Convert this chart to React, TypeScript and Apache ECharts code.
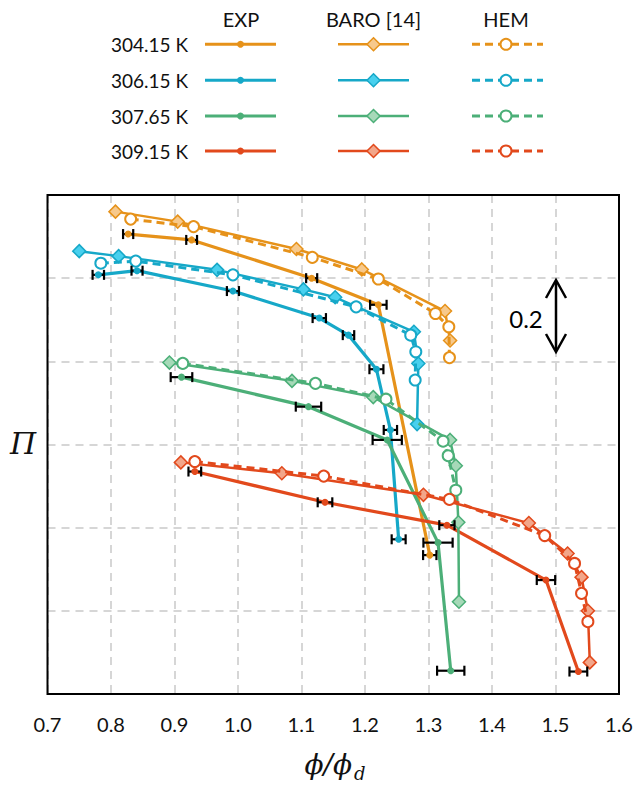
import React, { useEffect, useRef } from "react";
import * as echarts from "echarts";

// ---- data ----
const xTicks = [0.7, 0.8, 0.9, 1.0, 1.1, 1.2, 1.3, 1.4, 1.5, 1.6];
const temps = ["304.15 K", "306.15 K", "307.65 K", "309.15 K"];
const methods = ["EXP", "BARO [14]", "HEM"];

const orangeExpX = [0.827, 0.927, 1.116, 1.221, 1.302];
const orangeExpY = [1.106, 1.092, 1.0, 0.936, 0.334];
const orangeErr = [0.008, 0.0085, 0.0087, 0.013, 0.0105];
const orangeBaroX = [0.807, 0.905, 1.092, 1.195, 1.326, 1.334];
const orangeBaroY = [1.16, 1.136, 1.07, 1.021, 0.921, 0.85];
const orangeHemX = [0.831, 0.93, 1.117, 1.221, 1.311, 1.332, 1.333];
const orangeHemY = [1.142, 1.124, 1.05, 0.998, 0.915, 0.883, 0.809];

const cyanExpX = [0.78, 0.841, 0.992, 1.128, 1.174, 1.218, 1.24, 1.253];
const cyanExpY = [1.008, 1.018, 0.969, 0.904, 0.863, 0.781, 0.635, 0.372];
const cyanErr = [0.009, 0.0087, 0.0095, 0.0105, 0.009, 0.011, 0.0105, 0.011];
const cyanBaroX = [0.75, 0.812, 0.967, 1.103, 1.153, 1.277, 1.284, 1.282];
const cyanBaroY = [1.065, 1.053, 1.02, 0.973, 0.954, 0.871, 0.795, 0.649];
const cyanHemX = [0.784, 0.839, 0.992, 1.186, 1.272, 1.28, 1.279];
const cyanHemY = [1.036, 1.041, 1.008, 0.931, 0.863, 0.823, 0.755];

const greenExpX = [0.911, 1.111, 1.235, 1.315, 1.335];
const greenExpY = [0.762, 0.691, 0.611, 0.364, 0.056];
const greenErr = [0.017, 0.02, 0.023, 0.023, 0.0215];
const greenBaroX = [0.892, 1.085, 1.213, 1.334, 1.343, 1.347, 1.348];
const greenBaroY = [0.797, 0.753, 0.714, 0.611, 0.549, 0.413, 0.222];
const greenHemX = [0.913, 1.122, 1.233, 1.323, 1.331, 1.343];
const greenHemY = [0.795, 0.747, 0.709, 0.608, 0.573, 0.49];

const redExpX = [0.932, 1.137, 1.329, 1.485, 1.536];
const redExpY = [0.535, 0.461, 0.406, 0.274, 0.054];
const redErr = [0.01, 0.0115, 0.012, 0.0145, 0.014];
const redBaroX = [0.91, 1.069, 1.292, 1.458, 1.519, 1.541, 1.551, 1.554];
const redBaroY = [0.557, 0.531, 0.479, 0.411, 0.338, 0.281, 0.2, 0.076];
const redHemX = [0.932, 1.135, 1.333, 1.483, 1.53, 1.541, 1.551];
const redHemY = [0.559, 0.524, 0.468, 0.381, 0.314, 0.242, 0.174];

// ---- styles ----
const FONT = "Lato";
const colors = ["#E6921A", "#16A8C8", "#4CAF78", "#E2491C"];
const fills = ["#F7C98C", "#48D0EE", "#A6D9B8", "#F2A68A"];

const groups = [
  { expX: orangeExpX, expY: orangeExpY, err: orangeErr, baroX: orangeBaroX, baroY: orangeBaroY, hemX: orangeHemX, hemY: orangeHemY },
  { expX: cyanExpX, expY: cyanExpY, err: cyanErr, baroX: cyanBaroX, baroY: cyanBaroY, hemX: cyanHemX, hemY: cyanHemY },
  { expX: greenExpX, expY: greenExpY, err: greenErr, baroX: greenBaroX, baroY: greenBaroY, hemX: greenHemX, hemY: greenHemY },
  { expX: redExpX, expY: redExpY, err: redErr, baroX: redBaroX, baroY: redBaroY, hemX: redHemX, hemY: redHemY },
];

const pairs = (xs: number[], ys: number[]) => xs.map((x, i) => [x, ys[i]]);

const GRID = { left: 47.5, right: 18, top: 195, bottom: 92 };
const W = 637;
const H = 786;

export default function App() {
  const ref = useRef<HTMLDivElement>(null);
  useEffect(() => {
    if (!ref.current) return;
    const chart = echarts.init(ref.current, null, { renderer: "svg" });
    const series: any[] = [];
    groups.forEach((g, gi) => {
      const c = colors[gi];
      series.push({
        type: "line",
        name: temps[gi] + " EXP",
        data: pairs(g.expX, g.expY),
        showSymbol: false,
        lineStyle: { color: c, width: 3.2 },
        z: 2,
      });
      series.push({
        type: "line",
        name: temps[gi] + " BARO",
        data: pairs(g.baroX, g.baroY),
        symbol: "diamond",
        symbolSize: 13,
        lineStyle: { color: c, width: 2.5 },
        itemStyle: { color: fills[gi], borderColor: c, borderWidth: 1.5 },
        z: 3,
      });
      series.push({
        type: "line",
        name: temps[gi] + " HEM",
        data: pairs(g.hemX, g.hemY),
        symbol: "circle",
        symbolSize: 11,
        lineStyle: { color: c, width: 3, type: [8, 5] },
        itemStyle: { color: "#fff", borderColor: c, borderWidth: 2 },
        z: 4,
      });
      series.push({
        type: "custom",
        name: temps[gi] + " err",
        data: g.expX.map((x, i) => [x, g.expY[i], g.err[i]]),
        encode: { x: 0, y: 1 },
        z: 5,
        renderItem: (params: any, api: any) => {
          const x = api.value(0);
          const y = api.value(1);
          const e = api.value(2);
          const p = api.coord([x, y]);
          const l = api.coord([x - e, y]);
          const r = api.coord([x + e, y]);
          const st = { stroke: "#000", lineWidth: 2.2 };
          return {
            type: "group",
            children: [
              { type: "line", shape: { x1: l[0], y1: p[1], x2: r[0], y2: p[1] }, style: st },
              { type: "line", shape: { x1: l[0], y1: p[1] - 5, x2: l[0], y2: p[1] + 5 }, style: st },
              { type: "line", shape: { x1: r[0], y1: p[1] - 5, x2: r[0], y2: p[1] + 5 }, style: st },
              { type: "circle", shape: { cx: p[0], cy: p[1], r: 3.5 }, style: { fill: c } },
            ],
          };
        },
      });
    });

    // legend graphics
    const graphic: any[] = [];
    const headerX = [241, 373.5, 506];
    methods.forEach((m, i) => {
      graphic.push({
        type: "text",
        x: headerX[i],
        y: 19,
        style: { text: m, font: `20px ${FONT}`, fill: "#111", textAlign: "center", textVerticalAlign: "middle" },
      });
    });
    const rowY = [44.3, 80.3, 116, 151];
    temps.forEach((t, i) => {
      const y = rowY[i];
      const c = colors[i];
      graphic.push({
        type: "text",
        x: 188,
        y,
        style: { text: t, font: `19px ${FONT}`, fill: "#111", textAlign: "right", textVerticalAlign: "middle" },
      });
      graphic.push({ type: "line", shape: { x1: 205, y1: y, x2: 276, y2: y }, style: { stroke: c, lineWidth: 3 } });
      graphic.push({ type: "circle", shape: { cx: 240.5, cy: y, r: 3.5 }, style: { fill: c } });
      graphic.push({ type: "line", shape: { x1: 338, y1: y, x2: 409, y2: y }, style: { stroke: c, lineWidth: 2.5 } });
      graphic.push({
        type: "polygon",
        shape: { points: [[373.5, y - 6.5], [380, y], [373.5, y + 6.5], [367, y]] },
        style: { fill: fills[i], stroke: c, lineWidth: 1.5 },
      });
      graphic.push({
        type: "line",
        shape: { x1: 472, y1: y, x2: 543, y2: y },
        style: { stroke: c, lineWidth: 3, lineDash: [8, 5] },
      });
      graphic.push({ type: "circle", shape: { cx: 506, cy: y, r: 5.5 }, style: { fill: "#fff", stroke: c, lineWidth: 2 } });
    });

    // plot frame
    graphic.push({
      type: "rect",
      shape: { x: GRID.left, y: GRID.top, width: W - GRID.left - GRID.right, height: H - GRID.top - GRID.bottom },
      style: { fill: "none", stroke: "#000", lineWidth: 2 },
    });

    // scale bar
    const sb = { stroke: "#000", lineWidth: 2.5, fill: "none" };
    graphic.push({ type: "line", shape: { x1: 556, y1: 281, x2: 556, y2: 351 }, style: sb });
    graphic.push({ type: "polyline", shape: { points: [[546, 298], [556, 280], [566, 298]] }, style: sb });
    graphic.push({ type: "polyline", shape: { points: [[546, 334], [556, 352], [566, 334]] }, style: sb });
    graphic.push({
      type: "text",
      x: 526,
      y: 318,
      style: { text: "0.2", font: `24px ${FONT}`, fill: "#000", textAlign: "center", textVerticalAlign: "middle" },
    });

    // axis names
    graphic.push({
      type: "text",
      x: 352,
      y: 764,
      style: { text: "\u03D5/\u03D5", font: `italic 28px 'DejaVu Serif'`, fill: "#111", textAlign: "right", textVerticalAlign: "middle" },
    });
    graphic.push({
      type: "text",
      x: 354,
      y: 773,
      style: { text: "d", font: `italic 18px 'DejaVu Serif'`, fill: "#111", textAlign: "left", textVerticalAlign: "middle" },
    });
    graphic.push({
      type: "text",
      x: 23,
      y: 443,
      style: { text: "\u03A0", font: `italic 30px 'DejaVu Serif'`, fill: "#111", textAlign: "center", textVerticalAlign: "middle" },
    });

    graphic.forEach((el) => {
      el.z = 100;
    });

    chart.setOption({
      animation: false,
      backgroundColor: "#fff",
      grid: {
        left: GRID.left,
        right: GRID.right,
        top: GRID.top,
        bottom: GRID.bottom,
      },
      xAxis: {
        type: "value",
        min: 0.7,
        max: 1.6,
        interval: 0.1,
        axisLine: { show: false },
        axisTick: { show: false },
        axisLabel: {
          margin: 20,
          color: "#111",
          fontFamily: FONT,
          fontSize: 20,
          formatter: (v: number) => {
            const t = xTicks.find((k) => Math.abs(k - v) < 1e-6);
            return t !== undefined ? t.toFixed(1) : "";
          },
        },
        splitLine: { show: true, lineStyle: { color: "#D6D6D6", width: 2, type: [8, 6] } },
      },
      yAxis: {
        type: "value",
        min: 0,
        max: 1.2,
        interval: 0.2,
        axisLine: { show: false },
        axisTick: { show: false },
        axisLabel: { show: false },
        splitLine: { show: true, lineStyle: { color: "#D6D6D6", width: 2, type: [8, 6] } },
      },
      graphic,
      series,
    });
    return () => chart.dispose();
  }, []);
  return <div ref={ref} style={{ position: "absolute", left: 0, top: 0, width: W, height: H }} />;
}
